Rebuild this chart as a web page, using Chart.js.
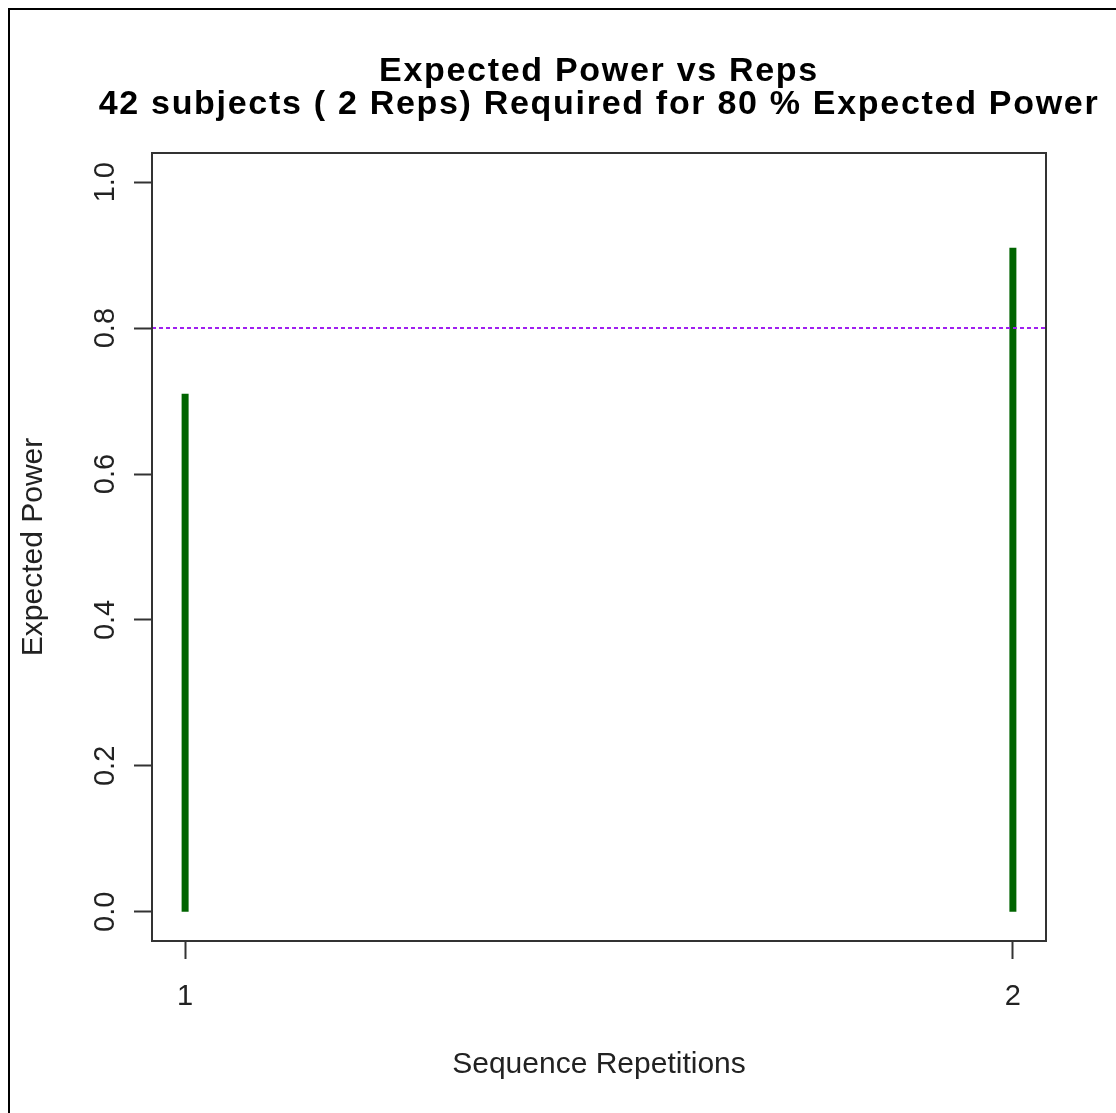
<!DOCTYPE html>
<html>
<head>
<meta charset="utf-8">
<title>Expected Power vs Reps</title>
<script src="https://cdn.jsdelivr.net/npm/chart.js@4.4.1/dist/chart.umd.min.js"></script>
<style>
  html, body { margin: 0; padding: 0; background: #fff; }
  #wrap { position: relative; width: 1116px; height: 1113px; }
</style>
</head>
<body>
<div id="wrap"><canvas id="power-chart" width="1116" height="1113"></canvas></div>
<script>
// Expected power per number of sequence repetitions
const reps          = [1, 2];
const expectedPower = [0.71, 0.91];
const targetPower   = 0.8;
const powerTicks    = [0, 0.2, 0.4, 0.6, 0.8, 1.0];
const titleLines    = ["Expected Power vs Reps", "42 subjects ( 2 Reps) Required for 80 % Expected Power"];

// axis limits with the usual 4% breathing room round the data
const xLim = [0.96, 2.04];
const yLim = [-0.04, 1.04];

const FONT = "'Liberation Sans', Arial, Helvetica, sans-serif";
const INK  = "#222";

// white page, thin frame on the left/top, and wider letter spacing for the main title
const pageFrame = {
  id: "pageFrame",
  beforeDraw(chart) {
    const { ctx, width, height } = chart;
    ctx.save();
    ctx.fillStyle = "#fff";
    ctx.fillRect(0, 0, width, height);
    ctx.fillStyle = "#000";
    ctx.fillRect(8, 8, 2, height - 8);
    ctx.fillRect(8, 8, width - 8, 2);
    ctx.restore();
    ctx.letterSpacing = "1.7px";
  },
  beforeDatasetsDraw(chart) {
    chart.ctx.letterSpacing = "0px";
  }
};

// centre the title over the plot region rather than the whole canvas,
// keeping the box as wide as possible so long lines are not squeezed
const centreTitle = {
  id: "centreTitle",
  afterLayout(chart) {
    const t = chart.titleBlock, a = chart.chartArea;
    if (!t) return;
    const mid = (a.left + a.right) / 2;
    const half = Math.min(mid, chart.width - mid);
    t.left = mid - half;
    t.right = mid + half;
    t.width = half * 2;
  }
};

// box round the plotting region
const plotBox = {
  id: "plotBox",
  afterDraw(chart) {
    const { ctx, chartArea: a } = chart;
    ctx.save();
    ctx.strokeStyle = "#333";
    ctx.lineWidth = 2;
    ctx.strokeRect(a.left, a.top, a.right - a.left, a.bottom - a.top);
    ctx.restore();
  }
};

const stems = reps.map((rep, i) => ({
  label: `Reps ${rep}`,
  data: [{ x: rep, y: 0 }, { x: rep, y: expectedPower[i] }],
  borderColor: "#006400",
  borderWidth: 7,
  borderCapStyle: "butt",
  pointRadius: 0,
  order: 1
}));

const targetLine = {
  label: "Target",
  data: xLim.map(x => ({ x, y: targetPower })),
  borderColor: "#a020f0",
  borderWidth: 2,
  borderDash: [4, 3],
  pointRadius: 0,
  order: 0
};

const axisGrid = { drawOnChartArea: false, drawTicks: true, tickLength: 18, tickWidth: 2, tickColor: "#333", z: 1 };

new Chart(document.getElementById("power-chart"), {
  type: "line",
  data: { datasets: [...stems, targetLine] },
  plugins: [pageFrame, centreTitle, plotBox],
  options: {
    responsive: false,
    devicePixelRatio: 1,
    animation: false,
    layout: { padding: { left: 0, right: 70, top: 0, bottom: 0 } },
    plugins: {
      legend: { display: false },
      tooltip: { enabled: false },
      title: {
        display: true,
        text: titleLines,
        fullSize: true,
        color: "#000",
        font: { family: FONT, size: 34, weight: "bold", lineHeight: "33px" },
        padding: { top: 55, bottom: 32 }
      }
    },
    scales: {
      x: {
        type: "linear",
        min: xLim[0], max: xLim[1],
        afterBuildTicks: s => { s.ticks = reps.map(value => ({ value })); },
        afterFit: s => { s.height = 172; },
        grid: axisGrid,
        border: { display: false },
        ticks: { z: 1, padding: 21, maxRotation: 0, color: INK, font: { family: FONT, size: 29 }, callback: v => String(v) },
        title: { display: true, text: "Sequence Repetitions", color: INK, font: { family: FONT, size: 30 }, padding: { top: 0, bottom: 30 } }
      },
      y: {
        type: "linear",
        min: yLim[0], max: yLim[1],
        afterBuildTicks: s => { s.ticks = powerTicks.map(value => ({ value })); },
        afterFit: s => { s.width = 152; },
        grid: axisGrid,
        border: { display: false },
        ticks: { z: 1, minRotation: 90, maxRotation: 90, crossAlign: "center", padding: 8, color: INK, font: { family: FONT, size: 29 }, callback: v => v.toFixed(1) },
        title: { display: true, text: "Expected Power", color: INK, font: { family: FONT, size: 30 }, padding: { top: 16, bottom: 0 } }
      }
    }
  }
});
</script>
</body>
</html>
